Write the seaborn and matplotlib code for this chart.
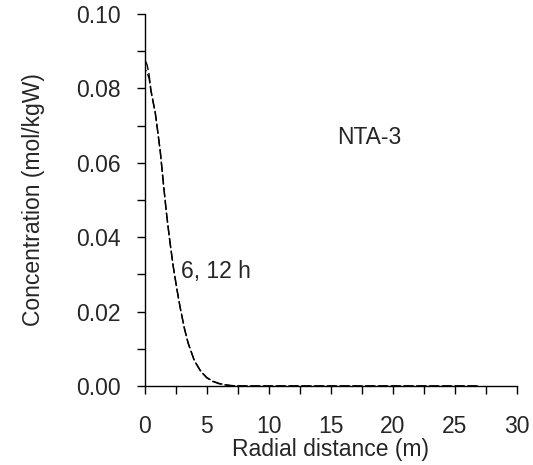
import numpy as np
import pandas as pd
import matplotlib
matplotlib.use("Agg")
import matplotlib.pyplot as plt
import seaborn as sns
from matplotlib.ticker import MultipleLocator

# Data
x_a = [0.0, 0.1, 0.2, 0.35, 0.5, 0.7, 0.85, 1.0, 1.25, 1.5, 1.75, 2.0, 2.3, 2.6, 2.85, 3.2, 3.5, 4.0, 4.5, 5.0, 5.5, 6.0, 6.5, 7.0, 8.0, 10.0, 15.0, 20.0, 25.0, 27.0]
conc_6h = [0.0872, 0.0871, 0.0862, 0.0838, 0.0796, 0.0761, 0.0736, 0.0698, 0.0633, 0.0548, 0.0467, 0.0397, 0.0322, 0.0260, 0.0213, 0.0155, 0.0115, 0.0068, 0.0040, 0.0022, 0.0012, 0.0006, 0.0003, 0.0001, 0.0, 0.0, 0.0, 0.0, 0.0, 0.0]
conc_12h = [0.0849, 0.0848, 0.0841, 0.0828, 0.0793, 0.0759, 0.0734, 0.0696, 0.0631, 0.0546, 0.0465, 0.0395, 0.0321, 0.0259, 0.0212, 0.0155, 0.0116, 0.0069, 0.0041, 0.0023, 0.0013, 0.0007, 0.0003, 0.0001, 0.0, 0.0, 0.0, 0.0, 0.0, 0.0]
series = ["6 h", "12 h"]

sns.set_style("ticks")
plt.rcParams["font.family"] = ["Liberation Sans", "DejaVu Sans"]

fig = plt.figure(figsize=(5.33, 4.65), dpi=100)
ax = fig.add_axes([0.2715, 0.1699, 0.6979, 0.8000])

lines = []
for vals in [conc_6h, conc_12h]:
    sns.lineplot(x=x_a, y=vals, color="black", linewidth=1.0, ax=ax, sort=False)
    lines.append(ax.lines[-1])

FS = 16.5
ax.set_xlim(0, 30)
ax.set_ylim(0, 0.10)
ax.xaxis.set_major_locator(MultipleLocator(5))
ax.xaxis.set_minor_locator(MultipleLocator(2.5))
ax.yaxis.set_major_locator(MultipleLocator(0.02))
ax.yaxis.set_minor_locator(MultipleLocator(0.01))
ax.set_yticks(ax.get_yticks())
ax.set_yticklabels([f"{v:.2f}" for v in ax.get_yticks()])
ax.set_ylim(0, 0.10)

# align dash phases of the two curves after they merge
pattern = (7, 2.2)
period = sum(pattern)
merge_idx = 5
lens = []
for ln in lines:
    pts = ax.transData.transform(np.column_stack([ln.get_xdata(), ln.get_ydata()]))[: merge_idx + 1]
    lens.append(np.sum(np.hypot(np.diff(pts[:, 0]), np.diff(pts[:, 1]))) * 72 / fig.dpi)
lines[0].set_linestyle((0, pattern))
lines[1].set_linestyle(((lens[0] - lens[1]) % period, pattern))

ax.tick_params(axis="both", which="both", direction="out", length=6, width=1, color="black", labelsize=FS)
ax.tick_params(axis="x", which="major", pad=15)
ax.tick_params(axis="y", which="major", pad=11)

for s in ["top", "right"]:
    ax.spines[s].set_visible(False)
for s in ["left", "bottom"]:
    ax.spines[s].set_color("black")
    ax.spines[s].set_linewidth(1)

ax.set_xlabel("Radial distance (m)", fontsize=FS, labelpad=0)
ax.set_ylabel("Concentration (mol/kgW)", fontsize=FS, labelpad=23)

ax.text(15.5, 0.0667, "NTA-3", fontsize=FS, va="center", ha="left")
ax.text(2.9, 0.0308, "6, 12 h", fontsize=FS, va="center", ha="left")

fig.savefig("out.png", dpi=100)
